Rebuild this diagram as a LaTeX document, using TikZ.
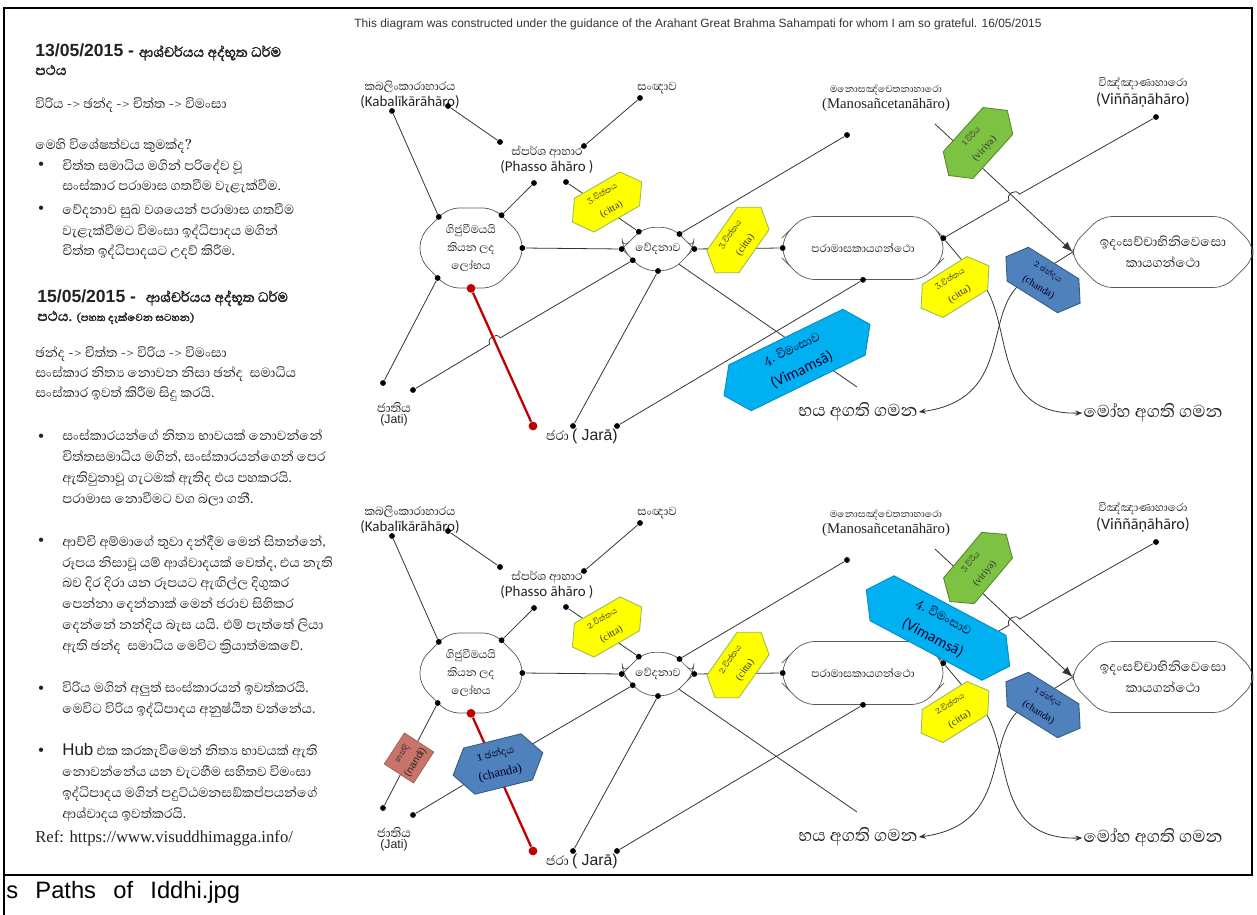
\documentclass[tikz,border=0pt]{standalone}
\usepackage{fontspec}
\setmainfont{Liberation Sans}
\newfontfamily\sinfont[Script=Sinhala, BoldFont={Abhaya Libre}, BoldFeatures={FakeBold=2}]{Abhaya Libre}
\newfontfamily\calfont{Carlito}
\newfontfamily\tmsfont{Liberation Serif}
\usetikzlibrary{positioning,shapes.misc,shapes.symbols,arrows.meta}

\definecolor{ink}{HTML}{222222}
\definecolor{cittaY}{HTML}{FFFF00}
\definecolor{cittaD}{HTML}{9BBB59}
\definecolor{vimB}{HTML}{00B0F0}
\definecolor{chandaB}{HTML}{4F81BD}
\definecolor{viriyaG}{HTML}{7DC242}
\definecolor{nandiR}{HTML}{C9746A}
\definecolor{redline}{HTML}{C00000}

\tikzstyle{hub} = [chamfered rectangle, chamfered rectangle xsep=8pt, chamfered rectangle ysep=8pt,
                   rounded corners=6pt, draw=black!65, align=center, inner sep=1pt, text=ink,
                   font=\sinfont\fontsize{8}{10.2}\selectfont]
\tikzstyle{dot} = [circle, fill=black, inner sep=0pt, minimum size=3.3pt]
\tikzstyle{reddot} = [circle, fill=redline, inner sep=0pt, minimum size=5pt]
\tikzstyle{link} = [draw=black!80, line width=0.45pt]
\tikzstyle{redlink} = [draw=redline, line width=1.3pt]

\newcommand{\tagtext}[2]{{\sinfont #1}\\{\tmsfont #2}}

\begin{document}
\begin{tikzpicture}[x=0.02cm, y=-0.02cm,
    txt/.style={anchor=base west, align=left, inner sep=0pt, text=ink,
                font=\sinfont\fontsize{9.6}{11.8}\selectfont},
    bul/.style={anchor=base west, inner sep=0pt, text=ink, font=\fontsize{9}{10}\selectfont},
    sinlab/.style={inner sep=0.5pt, text=ink, font=\sinfont\fontsize{8.5}{10}\selectfont},
    latlab/.style={inner sep=0.5pt, text=ink, font=\calfont\fontsize{8.5}{10}\selectfont},
    tag/.style={signal, signal to=east and west, signal pointer angle=110, align=center,
                inner sep=0pt, line width=0.5pt, font=\fontsize{5.8}{10.4}\selectfont},
    citta/.style={tag, fill=cittaY, draw=cittaD, text=black!80, minimum width=1.6cm, minimum height=0.78cm},
    chanda/.style={tag, fill=chandaB, draw=chandaB!70!black, text=black!85!blue, minimum width=1.75cm, minimum height=0.8cm},
    viriya/.style={tag, fill=viriyaG, draw=viriyaG!70!black, text=black!80, minimum width=1.75cm, minimum height=0.8cm},
    vimamsa/.style={tag, fill=vimB, draw=vimB!80!black, text=black!80!blue, minimum width=3.25cm, minimum height=1.02cm,
                font=\fontsize{8.8}{13.5}\selectfont},
    nandi/.style={rectangle, fill=nandiR, draw=nandiR!80!black, align=center, inner sep=0pt, text=black!85,
                minimum width=0.74cm, minimum height=0.7cm, font=\fontsize{5.8}{9.4}\selectfont}
  ]
  \useasboundingbox (0,0) rectangle (1257,915);

  % frame and caption
  \draw[line width=1.1pt] (4,915) -- (4,8) -- (1252,8) -- (1252,875) -- (4,875);
  \node[anchor=west, inner sep=0pt, font=\fontsize{13.5}{15}\selectfont] (caption) at (6,892)
    {s\hspace{0.45em} Paths\hspace{0.45em} of\hspace{0.45em} Iddhi.jpg};

  % title
  \node[inner sep=0pt, text=black!80, font=\fontsize{6.8}{8}\selectfont] (title) at (698,24)
    {This diagram was constructed under the guidance of the Arahant Great Brahma Sahampati for whom I am so grateful. 16/05/2015};

  % left column (base anchor sits on the last line)
  \node[txt, font=\bfseries\fontsize{10}{10.3}\selectfont] (head1) at (35,75)
    {13/05/2015 - {\sinfont ආශ්චර්යය අද්භූත ධර්ම}\\{\sinfont පථය}};
  \node[txt] (flow1) at (35,109) {විරිය -> ඡන්ද -> චිත්ත -> විමංසා};
  \node[txt] (quest) at (35,150) {මෙහි විශේෂත්වය කුමක්ද?};
  \node[bul] (bu1) at (38,170) {•};
  \node[txt] (note1) at (62,191) {චිත්ත සමාධිය මගින් පරිදේව වූ\\සංස්කාර පරාමාස ගතවීම වැළැක්වීම.};
  \node[bul] (bu2) at (38,214) {•};
  \node[txt] (note2) at (62,256) {වේදනාව සුඛ වශයෙන් පරාමාස ගතවීම\\වැළැක්වීමට විමංසා ඉද්ධිපාදය මගින්\\චිත්ත ඉද්ධිපාදයට උදව් කිරීම.};
  \node[txt, font=\bfseries\fontsize{10}{10.8}\selectfont] (head2) at (37,321)
    {15/05/2015 -\ \ {\sinfont ආශ්චර්යය අද්භූත ධර්ම}\\{\sinfont පථය. \fontsize{7.5}{9}\selectfont(පහත දැක්වෙන සටහන)}};
  \node[txt, font=\sinfont\fontsize{9.6}{11.6}\selectfont] (flow2) at (35,398)
    {ඡන්ද -> චිත්ත -> විරිය -> විමංසා\\සංස්කාර නිත්‍ය නොවන නිසා ඡන්ද\ \ සමාධිය\\සංස්කාර ඉවත් කිරීම සිදු කරයි.};
  \node[bul] (bu3) at (38,441) {•};
  \node[txt] (note3) at (62,503) {සංස්කාරයන්ගේ නිත්‍ය භාවයක් නොවන්නේ\\චිත්තසමාධිය මගින්, සංස්කාරයන්ගෙන් පෙර\\ඇතිවුනාවූ ගැටමක් ඇතිද එය පහකරයි.\\පරාමාස නොවීමට වග බලා ගනී.};
  \node[bul] (bu4) at (38,545) {•};
  \node[txt] (note4) at (62,650) {ආච්චි අම්මාගේ තුවා දන්දීම මෙන් සිතන්නේ,\\රූපය නිසාවූ යම් ආශ්වාදයක් වෙත්ද, එය නැති\\බව දිර දිරා යන රූපයට ඇඟිල්ල දිගුකර\\පෙන්නා දෙන්නාක් මෙන් ජරාව සිහිකර\\දෙන්නේ නන්දිය බැස යයි. එම් පැත්තේ ලියා\\ඇති ඡන්ද\ \ සමාධිය මෙවිට ක්‍රියාත්මකවේ.};
  \node[bul] (bu5) at (38,693) {•};
  \node[txt] (note5) at (62,713) {විරිය මගින් අලුත් සංස්කාරයන් ඉවත්කරයි.\\මෙවිට විරිය ඉද්ධිපාදය අනුෂ්ඨිත වන්නේය.};
  \node[bul] (bu6) at (38,755) {•};
  \node[txt] (note6) at (62,818) {{\rmfamily Hub} එක කරකැවීමෙන් නිත්‍ය භාවයක් ඇති\\නොවන්නේය යන වැටහීම සහිතව විමංසා\\ඉද්ධිපාදය මගින් පදුට්ඨමනසඞ්කප්පයන්ගේ\\ආශ්වාදය ඉවත්කරයි.};
  \node[txt, font=\tmsfont\fontsize{9.5}{11}\selectfont] (ref) at (35,842) {Ref: https://www.visuddhimagga.info/};

  % both panels share one skeleton
  \foreach \p/\dy in {a/0,b/425}{
  \begin{scope}[shift={(0,\dy)}]
    % hubs
    \node[hub, minimum width=2.04cm, minimum height=1.6cm] (lobha\p) at (471,248) {ගිජුවීමයයි\\කියන ලද\\ලෝභය};
    \node[hub, minimum width=1.44cm, minimum height=0.84cm] (ved\p) at (658,249) {වේදනාව};
    \node[hub, minimum width=3.2cm, minimum height=1.26cm] (para\p) at (863,248) {පරාමාසකායගන්ථො};
    \node[hub, minimum width=3.6cm, minimum height=1.42cm, font=\sinfont\fontsize{9.5}{12}\selectfont] (idam\p) at (1163,252)
      {ඉදංසච්චාභිනිවෙසො\\කායගන්ථො};

    % labels
    \node[sinlab] (kabS\p) at (410,87) {කබලිංකාරාහාරය};
    \node[latlab, below=0pt of kabS\p] (kabL\p) {(Kabalīkārāhāro)};
    \node[sinlab] (sanS\p) at (657,88) {සංඥාව};
    \node[sinlab] (phaS\p) at (547,152) {ස්පර්ශ ආහාර};
    \node[latlab, below=0pt of phaS\p] (phaL\p) {(Phasso āhāro )};
    \node[sinlab, font=\sinfont\fontsize{7}{8}\selectfont] (manoS\p) at (886,90) {මනොසඤ්චෙතනාහාරො};
    \node[latlab, font=\tmsfont\fontsize{8.4}{10}\selectfont, below=0pt of manoS\p] (manoL\p) {(Manosañcetanāhāro)};
    \node[sinlab, font=\sinfont\fontsize{8}{9}\selectfont] (vinS\p) at (1143,84) {විඤ්ඤාණාහාරො};
    \node[latlab, font=\calfont\fontsize{9.2}{10}\selectfont, below=0pt of vinS\p] (vinL\p) {(Viññāṇāhāro)};
    \node[sinlab, font=\sinfont\fontsize{9}{10}\selectfont] (jatiS\p) at (394,407) {ජාතිය};
    \node[latlab, font=\fontsize{7}{8}\selectfont, below=0pt of jatiS\p] (jatiL\p) {(Jati)};
    \node[sinlab, font=\sinfont\fontsize{9.5}{10}\selectfont] (jara\p) at (582,436) {ජරා {\rmfamily\fontsize{9}{10}\selectfont ( Jarā)}};
    \node[sinlab, font=\sinfont\fontsize{12.5}{14}\selectfont] (bhaya\p) at (858,412) {භය අගති ගමන};
    \node[sinlab, font=\sinfont\fontsize{12.5}{14}\selectfont] (moha\p) at (1153,413) {මෝහ අගති ගමන};

    % dots
    \node[dot] (kd1\p) at (392,111) {};
    \node[dot] (kd2\p) at (448,106) {};
    \node[dot] (sd\p) at (640,98) {};
    \node[dot] (pd1\p) at (500,142) {};
    \node[dot] (pd2\p) at (584,146) {};
    \node[dot] (pd3\p) at (534,183) {};
    \node[dot] (pd4\p) at (566,182) {};
    \node[dot] (md\p) at (847,135) {};
    \node[dot] (vd\p) at (1156,117) {};
    \node[dot] (jd1\p) at (383,383) {};
    \node[dot] (jd2\p) at (413,390) {};
    \node[dot] (jr1\p) at (573,426) {};
    \node[dot] (jr2\p) at (617,426) {};
    \node[reddot] (rd1\p) at (lobha\p.south) {};
    \node[reddot] (rd2\p) at (533,426) {};
    \node[dot] (loTL\p) at (lobha\p.136) {};
    \node[dot] (loTR\p) at (lobha\p.47) {};
    \node[dot] (loE\p) at (lobha\p.east) {};
    \node[dot] (loBL\p) at (lobha\p.222) {};
    \node[dot] (veTL\p) at (ved\p.138) {};
    \node[dot] (veTR\p) at (ved\p.35) {};
    \node[dot] (veW\p) at (ved\p.west) {};
    \node[dot] (veE\p) at (ved\p.east) {};
    \node[dot] (veBL\p) at (ved\p.204) {};
    \node[dot] (veB\p) at (ved\p.south) {};
    \node[dot] (paW\p) at (para\p.west) {};
    \node[dot] (paTR\p) at (para\p.7) {};
    \node[dot] (paB\p) at (para\p.south) {};

    % helper points of the hops and curves
    \coordinate (hA\p) at (500.2,337.9);
    \coordinate (hB\p) at (489.8,344.1);
    \coordinate (vA\p) at (1009,200.2);
    \coordinate (vB\p) at (1019.4,194.2);
    \coordinate (ve\p) at (857,387);
    \coordinate (ms\p) at (935,124);
    \coordinate (mk\p) at (987,290);
    \coordinate (bk\p) at (1017,287);

    % connections
    \draw[link] (kd1\p) -- (loTL\p);
    \draw[link] (kd2\p) -- (pd1\p);
    \draw[link] (sd\p) -- (pd2\p);
    \draw[link] (pd3\p) -- (loTR\p);
    \draw[link] (pd4\p) -- (veTL\p);
    \draw[link] (loE\p) -- (veW\p);
    \draw[link] (veTR\p) -- (md\p);
    \draw[link] (veE\p) -- (paW\p);
    \draw[link] (veBL\p) -- (hA\p) .. controls (496.6,331.9) and (486.2,338.1) .. (hB\p) -- (jd2\p);
    \draw[link] (veB\p) -- (jr1\p);
    \draw[link] (ved\p.-36) -- (ve\p);
    \draw[link] (loBL\p) -- (jd1\p);
    \draw[redlink] (rd1\p) -- (rd2\p);
    \draw[link] (jr2\p) -- (paB\p);
    \draw[link] (paTR\p) -- (vA\p) .. controls (1005.6,194.1) and (1016,188.1) .. (vB\p) -- (vd\p);
    \draw[link, -{Latex[length=6pt,width=4.5pt]}] (ms\p) -- (idam\p.west);
    \draw[link, -{Stealth[length=4pt,width=3pt]}] (paTR\p) -- (mk\p)
      .. controls (1012,335) and (995,415) .. (moha\p.west);
    \draw[link, -{Stealth[length=4pt,width=3pt]}] (idam\p.west) -- (bk\p)
      .. controls (985,320) and (1010,400) .. (bhaya\p.east);
  \end{scope}
  }

  % tags of the upper panel
  \node[citta, rotate=30] (citA1) at (607,202) {\tagtext{3.චිත්තය}{(citta)}};
  \node[citta, rotate=55] (citA2) at (738,240) {\tagtext{3.චිත්තය}{(citta)}};
  \node[viriya, rotate=48] (virA) at (978,143) {\tagtext{1 විරිය}{(viriya)}};
  \node[vimamsa, rotate=26] (vimA) at (797,360) {{\sinfont 4. විමංසාව}\\{\calfont (Vimamsā)}};
  \node[citta, rotate=32] (citA3) at (955,287) {\tagtext{3.චිත්තය}{(citta)}};
  \node[chanda, rotate=-32] (chaA) at (1043,280) {\tagtext{2 ඡන්දය}{(chanda)}};

  % tags of the lower panel
  \node[citta, rotate=30] (citB1) at (607,627) {\tagtext{2.චිත්තය}{(citta)}};
  \node[citta, rotate=55] (citB2) at (738,665) {\tagtext{2.චිත්තය}{(citta)}};
  \node[viriya, rotate=50] (virB) at (978,568) {\tagtext{3 විරිය}{(viriya)}};
  \node[vimamsa, rotate=-28] (vimB) at (938,628) {{\sinfont 4. විමංසාව}\\{\calfont (Vimamsā)}};
  \node[citta, rotate=32] (citB3) at (955,712) {\tagtext{2.චිත්තය}{(citta)}};
  \node[chanda, rotate=-32] (chaB) at (1043,705) {\tagtext{1 ඡන්දය}{(chanda)}};
  \node[chanda, rotate=14, minimum width=1.85cm, minimum height=0.95cm,
        font=\fontsize{7.2}{11.5}\selectfont] (chaC) at (498,764) {\tagtext{1 ඡන්දය}{(chanda)}};
  \node[nandi, rotate=57] (nanB) at (409,758) {{\sinfont නන්දි}\\(nandi)};
\end{tikzpicture}
\end{document}
